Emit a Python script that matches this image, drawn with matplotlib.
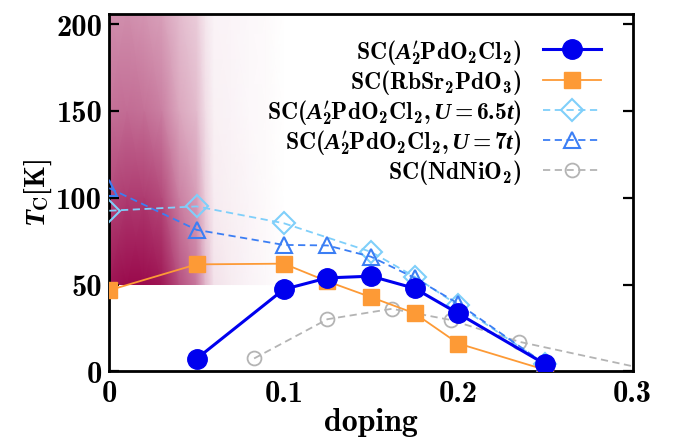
import numpy as np
import matplotlib
matplotlib.use('Agg')
import matplotlib.pyplot as plt
from matplotlib.colors import LinearSegmentedColormap

plt.rcParams['font.family'] = ['cmb10', 'DejaVu Serif']
plt.rcParams['mathtext.fontset'] = 'custom'
plt.rcParams['mathtext.rm'] = 'cmb10'
plt.rcParams['mathtext.bf'] = 'cmb10'
plt.rcParams['mathtext.it'] = 'Liberation Serif:italic:bold'
plt.rcParams['axes.unicode_minus'] = False

# Tc curves (doping, K)
x_pd = [0.05, 0.1, 0.125, 0.15, 0.175, 0.2, 0.25]
tc_pd = [7.2, 47.2, 53.8, 54.8, 47.8, 33.3, 4.0]

x_rb = [0.0, 0.05, 0.1, 0.125, 0.15, 0.175, 0.2, 0.25]
tc_rb = [46.7, 61.6, 62.0, 51.8, 42.7, 33.4, 16.0, 0.8]

x_u65 = [0.0, 0.05, 0.1, 0.15, 0.175, 0.2, 0.25]
tc_u65 = [92.5, 95.0, 85.3, 68.8, 54.5, 38.0, 4.0]

x_u7 = [0.0, 0.05, 0.1, 0.125, 0.15, 0.175, 0.2, 0.25]
tc_u7 = [105.5, 81.5, 72.8, 72.5, 66.0, 53.8, 39.0, 4.0]

x_nd = [0.083, 0.125, 0.162, 0.196, 0.235, 0.3]
tc_nd = [7.4, 30.0, 36.0, 29.5, 17.0, 2.9]

# background map (doping x T), intensity 0..1
map_x = [0.0, 0.01, 0.02, 0.03, 0.04, 0.05, 0.055, 0.06, 0.07, 0.08, 0.09, 0.1]
map_t = [50, 100, 150, 210]
map_z = [
    [0.95, 1.00, 1.00, 0.95, 0.72, 0.55, 0.30, 0.12, 0.08, 0.05, 0.03, 0.0],
    [0.75, 0.80, 0.80, 0.74, 0.52, 0.40, 0.20, 0.08, 0.06, 0.04, 0.02, 0.0],
    [0.58, 0.60, 0.58, 0.52, 0.36, 0.28, 0.14, 0.06, 0.05, 0.03, 0.02, 0.0],
    [0.45, 0.45, 0.42, 0.38, 0.27, 0.20, 0.10, 0.05, 0.04, 0.03, 0.02, 0.0],
]

cmap = LinearSegmentedColormap.from_list('wr', ['#ffffff', '#9a0a4c'])

fig = plt.figure(figsize=(6.77, 4.39), dpi=100)
ax = fig.add_axes([109.3/677, 1-372.3/439, (632.7-109.3)/677, (372.3-14.7)/439])

ax.pcolormesh(map_x, map_t, np.array(map_z), cmap=cmap, vmin=0, vmax=1,
              shading='gouraud', zorder=0, rasterized=True)

l_nd, = ax.plot(x_nd, tc_nd, color='#b4b4b4', ls=(0, (4, 2.5)), lw=1.3, marker='o',
                ms=10, mfc='none', mew=1.3, markevery=[0, 1, 2, 3, 4], zorder=2)
l_u65, = ax.plot(x_u65, tc_u65, color='#7fcffa', ls=(0, (4, 2.5)), lw=1.3, marker='D',
                 ms=11, mfc='none', mew=1.5, zorder=3)
l_u7, = ax.plot(x_u7, tc_u7, color='#3b7ef4', ls=(0, (4, 2.5)), lw=1.3, marker='^',
                ms=11, mfc='none', mew=1.5, zorder=4)
l_rb, = ax.plot(x_rb, tc_rb, color='#fd9a36', lw=1.3, marker='s', ms=11, zorder=5)
l_pd, = ax.plot(x_pd, tc_pd, color='#0000ee', lw=2.2, marker='o', ms=14, zorder=6)

ax.set_xlim(0, 0.3)
ax.set_ylim(0, 206)
ax.set_xticks([0, 0.1, 0.2, 0.3])
ax.set_xticklabels(['0', '0.1', '0.2', '0.3'])
ax.set_yticks([0, 50, 100, 150, 200])
ax.tick_params(axis='y', direction='in', length=7, width=1.6, right=True,
               labelsize=22, pad=5)
ax.tick_params(axis='x', length=0, labelsize=22, pad=6)
for s in ax.spines.values():
    s.set_linewidth(2.0)

ax.set_xlabel('doping', fontsize=23, labelpad=0)
ax.set_ylabel(r'$T_{\mathrm{C}}[\mathrm{K}]$', fontsize=20, labelpad=2)

handles = [l_pd, l_rb, l_u65, l_u7, l_nd]
labels = [r'SC$(A^{\prime}_{2}\mathrm{PdO_2Cl_2})$',
          r'SC$(\mathrm{RbSr_2PdO_3})$',
          r'SC$(A^{\prime}_{2}\mathrm{PdO_2Cl_2},U=6.5t)$',
          r'SC$(A^{\prime}_{2}\mathrm{PdO_2Cl_2},U=7t)$',
          r'SC$(\mathrm{NdNiO_2})$']
ax.legend(handles, labels, loc='upper right', frameon=False, markerfirst=False,
          fontsize=17, handlelength=2.46, handletextpad=0.9, labelspacing=0.05,
          borderaxespad=0, borderpad=0.4, bbox_to_anchor=(0.957, 0.962))

fig.savefig('out.png', dpi=100)
